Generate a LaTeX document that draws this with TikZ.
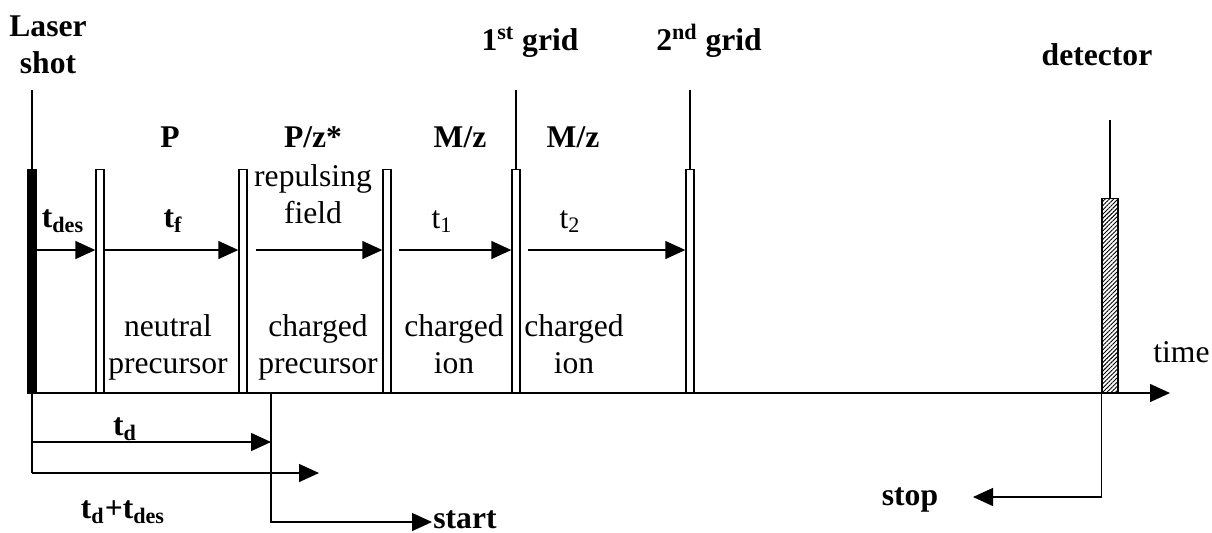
\documentclass[tikz,border=0pt]{standalone}
\usepackage{fontspec}
\setmainfont{Liberation Serif}
\usetikzlibrary{arrows.meta,patterns.meta,calc}
\begin{document}
\begin{tikzpicture}[x=0.5pt,y=-0.5pt,
  lbl/.style={font=\fontsize{15.8}{18.2}\selectfont, inner sep=0pt, anchor=base},
  bl/.style={lbl, font=\fontsize{15.8}{18.2}\selectfont\bfseries},
  ln/.style={line width=0.7pt},
  arr/.style={ln, -{Triangle[length=10pt,width=9pt]}},
  bar/.style={draw, line width=0.7pt, minimum width=4pt, minimum height=111.5pt, inner sep=0pt, anchor=south},
]
\useasboundingbox (0,0) rectangle (1212,532);
% rows
\coordinate (row) at (0,250);
\coordinate (tdrow) at (0,442);
\coordinate (tdesrow) at (0,473);
\coordinate (startrow) at (0,522);
\coordinate (stoprow) at (0,497);
% bars
\node[draw, fill=black, line width=0.7pt, minimum width=4pt, minimum height=111.5pt, inner sep=0pt, anchor=south] (b0) at (32,393) {};
\node[bar] (b1) at (100,393) {};
\node[bar] (b2) at (243,393) {};
\node[bar] (b3) at (387,393) {};
\node[bar] (b4) at (516,393) {};
\node[bar] (b5) at (690,393) {};
\node[bar, minimum width=8pt, minimum height=97pt, pattern={Lines[distance=1.5pt,angle=45,line width=0.45pt]}] (det) at (1110,393) {};
% tops
\coordinate (lasertop) at (32,90);
\coordinate (g1top) at (516,90);
\coordinate (g2top) at (690,90);
\coordinate (dettop) at (1110,120);
\draw[ln] (lasertop) -- (b0.north);
\draw[ln] (g1top) -- (b4.north);
\draw[ln] (g2top) -- (b5.north);
\draw[ln] (dettop) -- (det.north);
% axis
\coordinate (axisend) at (1170,393);
\draw[arr] (b0.south west) -- (axisend);
% upper arrows
\draw[arr] (b0.east |- row) -- (b1.west |- row);
\draw[arr] (b1.east |- row) -- (b2.west |- row);
\draw[arr] ([xshift=4pt]b2.east |- row) -- (b3.west |- row);
\draw[arr] ([xshift=3.5pt]b3.east |- row) -- (b4.west |- row);
\draw[arr] ([xshift=3.5pt]b4.east |- row) -- (b5.west |- row);
% lower timing
\coordinate (startpt) at (271,393);
\coordinate (tdestip) at (319,473);
\coordinate (starttip) at (432,522);
\coordinate (stoptip) at (973,497);
\draw[ln] (b0.south) -- (b0.south |- tdesrow);
\draw[arr] (b0.south |- tdrow) -- (startpt |- tdrow);
\draw[arr] (b0.south |- tdesrow) -- (tdestip);
\draw[arr] (startpt) -- (startpt |- startrow) -- (starttip);
\draw[arr] (det.south west) -- (det.south west |- stoprow) -- (stoptip);
% labels
\node[bl, align=center] (laser) at (48,73) {Laser\\shot};
\node[bl] (g1) at (530,50) {1\textsuperscript{st} grid};
\node[bl] (g2) at (709,50) {2\textsuperscript{nd} grid};
\node[bl] (detl) at (1097,65) {detector};
\node[bl] (p) at (170,147) {P};
\node[bl] (pz) at (313,147) {P/z*};
\node[bl] (mz1) at (460,147) {M/z};
\node[bl] (mz2) at (573,147) {M/z};
\node[lbl, align=center] (rep) at (313,223) {repulsing\\field};
\node[bl] (tdes) at (63,227) {t\textsubscript{des}};
\node[bl] (tf) at (173,227) {t\textsubscript{f}};
\node[lbl] (t1) at (442,228) {t\textsubscript{1}};
\node[lbl] (t2) at (570,228) {t\textsubscript{2}};
\node[lbl, align=center] (neu) at (168,373) {neutral\\precursor};
\node[lbl, align=center] (chp) at (318,373) {charged\\precursor};
\node[lbl, align=center] (ci1) at (454,373) {charged\\ion};
\node[lbl, align=center] (ci2) at (574,373) {charged\\ion};
\node[lbl, anchor=base west] (time) at (1153,362) {time};
\node[bl] (td) at (125,435) {t\textsubscript{d}};
\node[bl] (tdtdes) at (123,518) {t\textsubscript{d}+t\textsubscript{des}};
\node[bl, anchor=base west] (start) at (433,528) {start};
\node[bl] (stop) at (910,505) {stop};
\end{tikzpicture}
\end{document}
